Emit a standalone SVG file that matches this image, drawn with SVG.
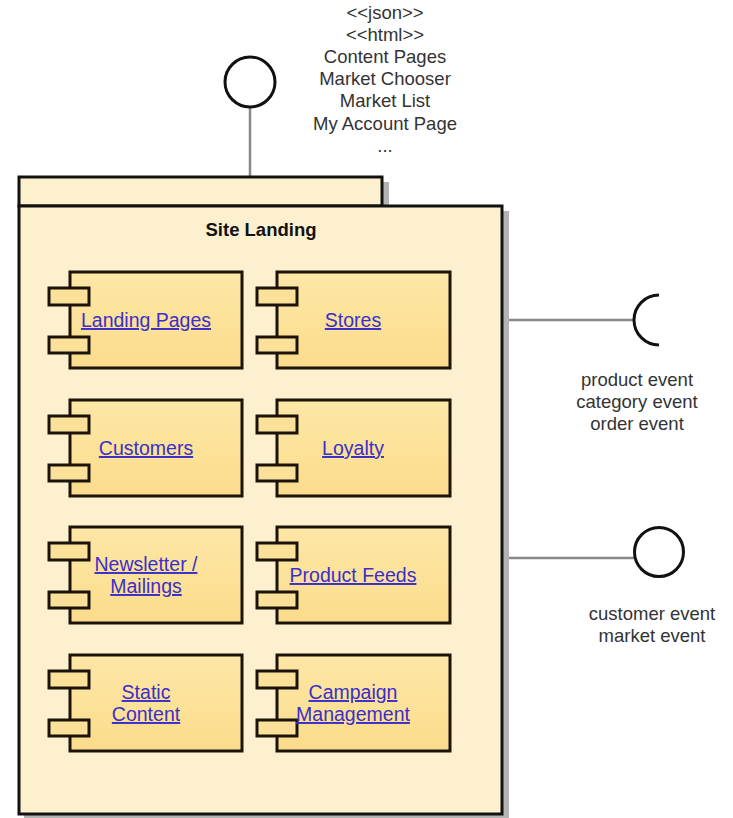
<svg xmlns="http://www.w3.org/2000/svg" width="733" height="818" viewBox="0 0 733 818">
<defs>
<linearGradient id="cg" x1="0" y1="0" x2="0" y2="1">
<stop offset="0" stop-color="#fde7a6"/>
<stop offset="1" stop-color="#fbdc8c"/>
</linearGradient>
<style>
.pkg{fill:#fdf0cf;stroke:#111;stroke-width:3}
.shd{fill:#b3b3b3}
.body{fill:url(#cg);stroke:#1c1308;stroke-width:3}
.port{fill:#fbe09a;stroke:#1c1308;stroke-width:3}
.lnk{font-family:"Liberation Sans",Arial,sans-serif;font-size:19.5px;fill:#3b2fc9;text-decoration:underline;text-anchor:middle}
.lbl{font-family:"Liberation Sans",Arial,sans-serif;font-size:18.5px;fill:#333;text-anchor:middle}
.ttl{font-family:"Liberation Sans",Arial,sans-serif;font-size:18.5px;font-weight:bold;fill:#111;text-anchor:middle}
.conn{stroke:#888;stroke-width:2.5;fill:none}
.ifc{fill:#fff;stroke:#111;stroke-width:3}
</style>
</defs>
<rect width="733" height="818" fill="#fff"/>

<g id="connectors">
<line class="conn" x1="250" y1="107" x2="250" y2="177"/>
<line class="conn" x1="504" y1="320" x2="634" y2="320"/>
<line class="conn" x1="504" y1="558" x2="635" y2="558"/>
</g>

<g id="site-landing">
<rect class="shd" x="383" y="182" width="6" height="24"/>
<rect class="shd" x="24" y="211" width="485" height="608"/>
<rect class="pkg" x="19" y="177" width="363" height="29"/>
<rect class="pkg" x="19" y="206" width="483" height="608"/>
<text class="ttl" x="261" y="236">Site Landing</text>
</g>

<g id="provided-interface-top">
<circle class="ifc" cx="250" cy="82" r="25"/>
<text class="lbl" x="385" y="19">&lt;&lt;json&gt;&gt;</text>
<text class="lbl" x="385" y="41">&lt;&lt;html&gt;&gt;</text>
<text class="lbl" x="385" y="63">Content Pages</text>
<text class="lbl" x="385" y="85">Market Chooser</text>
<text class="lbl" x="385" y="107">Market List</text>
<text class="lbl" x="385" y="130">My Account Page</text>
<text class="lbl" x="385" y="152">...</text>
</g>

<g id="required-interface">
<path class="ifc" style="fill:none" d="M659,295 A25,25 0 0 0 659,345"/>
<text class="lbl" x="637" y="386">product event</text>
<text class="lbl" x="637" y="408">category event</text>
<text class="lbl" x="637" y="430">order event</text>
</g>

<g id="provided-interface-right">
<circle class="ifc" cx="659" cy="552" r="24.5"/>
<text class="lbl" x="652" y="620">customer event</text>
<text class="lbl" x="652" y="642">market event</text>
</g>

<g id="landing-pages">
<rect class="body" x="70" y="272" width="172" height="96"/>
<rect class="port" x="49" y="288" width="40" height="17"/>
<rect class="port" x="49" y="337" width="40" height="16"/>
<text class="lnk" x="146" y="327">Landing Pages</text>
</g>
<g id="stores">
<rect class="body" x="277" y="272" width="173" height="96"/>
<rect class="port" x="257" y="288" width="40" height="17"/>
<rect class="port" x="257" y="337" width="40" height="16"/>
<text class="lnk" x="353" y="327">Stores</text>
</g>

<g id="customers">
<rect class="body" x="70" y="400" width="172" height="96"/>
<rect class="port" x="49" y="416" width="40" height="17"/>
<rect class="port" x="49" y="465" width="40" height="16"/>
<text class="lnk" x="146" y="455">Customers</text>
</g>
<g id="loyalty">
<rect class="body" x="277" y="400" width="173" height="96"/>
<rect class="port" x="257" y="416" width="40" height="17"/>
<rect class="port" x="257" y="465" width="40" height="16"/>
<text class="lnk" x="353" y="455">Loyalty</text>
</g>

<g id="newsletter-mailings">
<rect class="body" x="70" y="527" width="172" height="96"/>
<rect class="port" x="49" y="543" width="40" height="17"/>
<rect class="port" x="49" y="592" width="40" height="16"/>
<text class="lnk" x="146" y="571">Newsletter /</text>
<text class="lnk" x="146" y="593">Mailings</text>
</g>
<g id="product-feeds">
<rect class="body" x="277" y="527" width="173" height="96"/>
<rect class="port" x="257" y="543" width="40" height="17"/>
<rect class="port" x="257" y="592" width="40" height="16"/>
<text class="lnk" x="353" y="582">Product Feeds</text>
</g>

<g id="static-content">
<rect class="body" x="70" y="655" width="172" height="96"/>
<rect class="port" x="49" y="671" width="40" height="17"/>
<rect class="port" x="49" y="720" width="40" height="16"/>
<text class="lnk" x="146" y="699">Static</text>
<text class="lnk" x="146" y="721">Content</text>
</g>
<g id="campaign-management">
<rect class="body" x="277" y="655" width="173" height="96"/>
<rect class="port" x="257" y="671" width="40" height="17"/>
<rect class="port" x="257" y="720" width="40" height="16"/>
<text class="lnk" x="353" y="699">Campaign</text>
<text class="lnk" x="353" y="721">Management</text>
</g>
</svg>
